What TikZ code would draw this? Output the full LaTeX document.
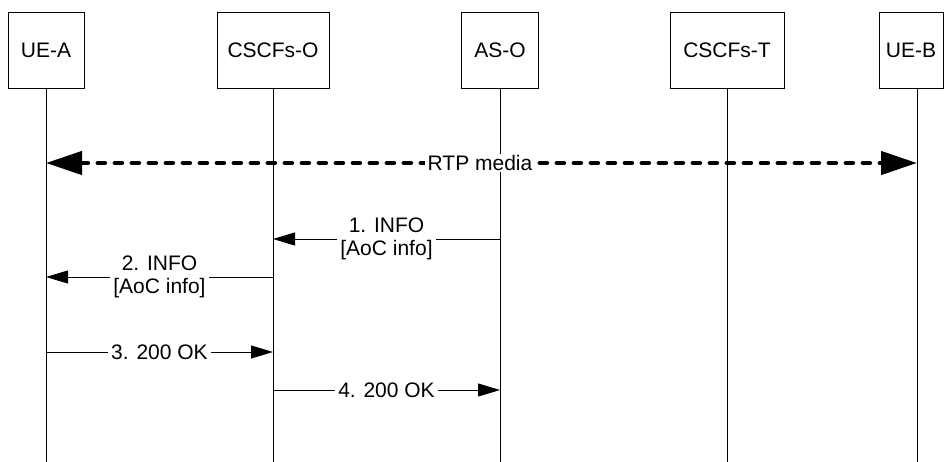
\documentclass[tikz,border=0pt]{standalone}
\usepackage{fontspec}
\setmainfont{Liberation Sans}
\usetikzlibrary{arrows.meta}
\begin{document}
\begin{tikzpicture}[x=1pt,y=-1pt,
  ent/.style={draw,line width=0.8pt,minimum height=76pt,inner sep=0pt,font=\fontsize{21}{23}\selectfont},
  life/.style={line width=0.8pt},
  msg/.style={line width=0.8pt,-{Triangle[length=22pt,width=13pt]}},
  lbl/.style={fill=white,inner xsep=3pt,inner ysep=1pt,align=center,font=\fontsize{21}{23}\selectfont},
  rtp/.style={line width=4.5pt,line cap=round,dash pattern=on 7pt off 10pt,{Triangle[length=36pt,width=23pt]}-{Triangle[length=36pt,width=23pt]}}]
\useasboundingbox (0,0) rectangle (944,462);
% entities
\node[ent,minimum width=76pt] (ueA) at (46,50) {UE-A};
\node[ent,minimum width=112pt] (cscfO) at (273,50) {CSCFs-O};
\node[ent,minimum width=77pt] (asO) at (500,50) {AS-O};
\node[ent,minimum width=114pt] (cscfT) at (727,50) {CSCFs-T};
\node[ent,minimum width=64pt] (ueB) at (911,50) {UE-B};
% lifeline ends
\coordinate (ueAe) at (46,462);
\coordinate (cscfOe) at (273,462);
\coordinate (asOe) at (500,462);
\coordinate (cscfTe) at (727,462);
\coordinate (ueBtop) at (917,88);
\coordinate (ueBe) at (917,462);
\draw[life] (ueA.south) -- (ueAe);
\draw[life] (cscfO.south) -- (cscfOe);
\draw[life] (asO.south) -- (asOe);
\draw[life] (cscfT.south) -- (cscfTe);
\draw[life] (ueBtop) -- (ueBe);
% RTP media
\coordinate (rA) at (46,163);
\coordinate (rB) at (917,163);
\draw[rtp] (rA) -- (rB);
\node[lbl] (rtpl) at (480,163) {RTP media};
% messages
\coordinate (m1a) at (500,239);
\coordinate (m1b) at (273,239);
\draw[msg] (m1a) -- node[lbl] (l1) {1. INFO\\{[AoC info]}} (m1b);
\coordinate (m2a) at (273,277);
\coordinate (m2b) at (46,277);
\draw[msg] (m2a) -- node[lbl] (l2) {2. INFO\\{[AoC info]}} (m2b);
\coordinate (m3a) at (46,352);
\coordinate (m3b) at (273,352);
\draw[msg] (m3a) -- node[lbl] (l3) {3. 200 OK} (m3b);
\coordinate (m4a) at (273,390);
\coordinate (m4b) at (500,390);
\draw[msg] (m4a) -- node[lbl] (l4) {4. 200 OK} (m4b);
\end{tikzpicture}
\end{document}
